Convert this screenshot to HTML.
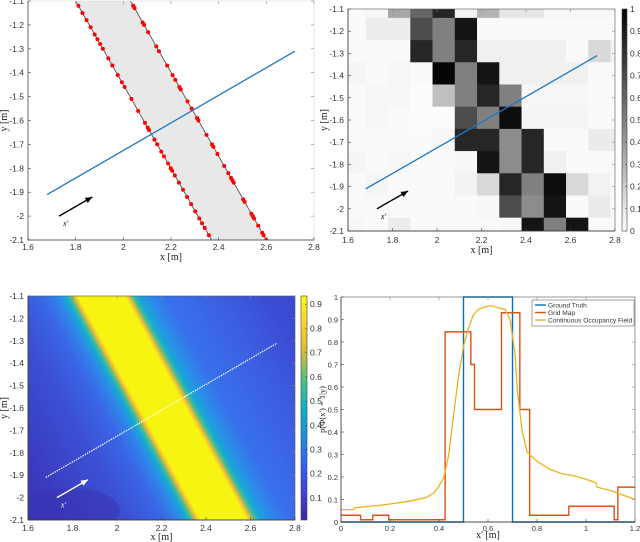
<!DOCTYPE html>
<html><head><meta charset="utf-8"><style>
html,body{margin:0;padding:0;background:#fff;width:640px;height:542px;overflow:hidden}
svg{display:block}
text{font-family:"Liberation Sans",sans-serif;font-size:8.5px;fill:#333}
.lab{font-family:"Liberation Serif",serif;font-size:10px;fill:#222}
</style></head><body>
<svg id="fig" width="640" height="542" viewBox="0 0 640 542" xmlns="http://www.w3.org/2000/svg">
<defs>
<clipPath id="c1"><rect x="28" y="1" width="286" height="239"/></clipPath>
<clipPath id="c2"><rect x="348" y="9" width="267" height="222"/></clipPath>
<clipPath id="c3"><rect x="28" y="296" width="267" height="224"/></clipPath>
<linearGradient id="parula" x1="0" y1="1" x2="0" y2="0">
<stop offset="0" stop-color="#3e26a8"/><stop offset="0.12" stop-color="#4140d8"/><stop offset="0.25" stop-color="#2f64f5"/><stop offset="0.37" stop-color="#1d8ee0"/><stop offset="0.5" stop-color="#0ab3c6"/><stop offset="0.62" stop-color="#49c085"/><stop offset="0.75" stop-color="#d4bb35"/><stop offset="0.87" stop-color="#fcce2e"/><stop offset="1" stop-color="#f9fb0e"/>
</linearGradient>
<linearGradient id="grayb" x1="0" y1="1" x2="0" y2="0"><stop offset="0" stop-color="#fff"/><stop offset="1" stop-color="#000"/></linearGradient>
<linearGradient id="field" gradientUnits="userSpaceOnUse" x1="31" y1="480" x2="294" y2="336">
<stop offset="0" stop-color="#3a38bc"/>
<stop offset="0.22" stop-color="#3b50d4"/>
<stop offset="0.32" stop-color="#3a66e6"/>
<stop offset="0.37" stop-color="#2f86ea"/>
<stop offset="0.395" stop-color="#14abd2"/>
<stop offset="0.41" stop-color="#5cbf80"/>
<stop offset="0.42" stop-color="#f0b83a"/>
<stop offset="0.432" stop-color="#f8f411"/>
<stop offset="0.568" stop-color="#f8f411"/>
<stop offset="0.58" stop-color="#f0b83a"/>
<stop offset="0.59" stop-color="#5cbf80"/>
<stop offset="0.605" stop-color="#14abd2"/>
<stop offset="0.635" stop-color="#2a8ee8"/>
<stop offset="0.69" stop-color="#3870ec"/>
<stop offset="0.85" stop-color="#3c5ee0"/>
<stop offset="1" stop-color="#3a4ad2"/>
</linearGradient>
</defs>
<g id="p1"></g>
<g id="p2"></g>
<g id="p3"></g>
<g id="p4"></g>
</svg>
<script>
// ---------- data ----------
const bandLeft = [[1.80,-1.1],[2.37,-2.1]];
const bandRight = [[2.03,-1.1],[2.60,-2.1]];
const scanLine = [[1.68,-1.91],[2.72,-1.31]];
const leftHitsY = [-1.12,-1.15,-1.18,-1.21,-1.24,-1.26,-1.28,-1.30,-1.34,-1.37,-1.41,-1.44,-1.46,-1.51,-1.56,-1.61,-1.63,-1.64,-1.68,-1.70,-1.73,-1.75,-1.78,-1.80,-1.81,-1.83,-1.86,-1.89,-1.92,-1.95,-1.98,-2.01,-2.03,-2.05,-2.08];
const rightHitsY = [-1.12,-1.13,-1.19,-1.20,-1.23,-1.29,-1.31,-1.37,-1.41,-1.43,-1.46,-1.47,-1.52,-1.55,-1.59,-1.60,-1.66,-1.70,-1.71,-1.74,-1.79,-1.82,-1.84,-1.85,-1.86,-1.93,-1.94,-1.99,-2.00,-2.01,-2.04,-2.07,-2.08,-2.10];
const gridColEdges = [1.58,1.68,1.78,1.88,1.98,2.08,2.18,2.28,2.38,2.48,2.58,2.68,2.78,2.88];
const gridRowEdges = [-1.04,-1.14,-1.24,-1.34,-1.44,-1.54,-1.64,-1.74,-1.84,-1.94,-2.04,-2.14];
const gridVals = [
[0.02,0.03,0.35,0.6,0.85,0.05,0.3,0.1,0.1,0.03,0.03,0.03,0.03],
[0.02,0.07,0.07,0.7,0.5,0.92,0.02,0.02,0.02,0.02,0.02,0.02,0.02],
[0.02,0.02,0.02,0.85,0.5,0.85,0.06,0.06,0.06,0.06,0.02,0.15,0.05],
[0.04,0.02,0.03,0.02,0.98,0.5,0.92,0.06,0.06,0.06,0.06,0.02,0.02],
[0.02,0.03,0.03,0.01,0.25,0.5,0.85,0.5,0.03,0.03,0.03,0.02,0.02],
[0.02,0.03,0.02,0.01,0.01,0.7,0.5,0.95,0.04,0.04,0.04,0.02,0.02],
[0.02,0.02,0.02,0.02,0.03,0.85,0.85,0.45,0.85,0.02,0.02,0.08,0.08],
[0.04,0.02,0.03,0.02,0.02,0.03,0.92,0.45,0.85,0.06,0.02,0.02,0.02],
[0.02,0.04,0.02,0.02,0.02,0.05,0.15,0.85,0.5,0.95,0.15,0.05,0.02],
[0.02,0.02,0.02,0.02,0.02,0.02,0.03,0.7,0.45,0.92,0.02,0.08,0.02],
[0.03,0.02,0.08,0.02,0.02,0.02,0.02,0.03,0.92,0.5,0.92,0.02,0.02]];
const mapXTicks = [1.6,1.8,2,2.2,2.4,2.6,2.8];
const mapYTicks = [-1.1,-1.2,-1.3,-1.4,-1.5,-1.6,-1.7,-1.8,-1.9,-2,-2.1];
const profXTicks = [0,0.2,0.4,0.6,0.8,1,1.2];
const profYTicks = [0,0.1,0.2,0.3,0.4,0.5,0.6,0.7,0.8,0.9,1];
const gtX = [0,0.5,0.5,0.7,0.7,1.2];
const gtY = [0,0,1,1,0,0];
const gridMapBreaks = [0,0.08,0.13,0.195,0.425,0.53,0.545,0.655,0.73,0.77,0.93,1.115,1.13,1.2];
const gridMapVals = [0.03,0.01,0.03,0.01,0.845,0.7,0.5,0.93,0.5,0.03,0.07,0.01,0.155];
const cofX = [0,0.05,0.055,0.1,0.15,0.2,0.25,0.3,0.35,0.38,0.4,0.42,0.44,0.46,0.48,0.5,0.52,0.54,0.56,0.6,0.62,0.64,0.67,0.69,0.71,0.72,0.74,0.76,0.8,0.85,0.9,0.95,1.0,1.04,1.045,1.1,1.15,1.2];
const cofY = [0.055,0.055,0.063,0.068,0.073,0.08,0.088,0.097,0.11,0.13,0.16,0.2,0.3,0.48,0.65,0.78,0.86,0.92,0.945,0.96,0.96,0.952,0.945,0.9,0.75,0.58,0.4,0.31,0.27,0.235,0.215,0.205,0.19,0.175,0.155,0.14,0.12,0.1];
const cb2Ticks = [0,0.1,0.2,0.3,0.4,0.5,0.6,0.7,0.8,0.9,1];
const cb3Ticks = [0.1,0.2,0.3,0.4,0.5,0.6,0.7,0.8,0.9];

const NS="http://www.w3.org/2000/svg";
function mk(parent,tag,attrs,txt){const e=document.createElementNS(NS,tag);for(const k in attrs)e.setAttribute(k,attrs[k]);if(txt!==undefined)e.textContent=txt;parent.appendChild(e);return e;}
function scale(d0,d1,p0,p1){return v=>p0+(v-d0)/(d1-d0)*(p1-p0);}
function fmt(v){return String(Math.round(v*10)/10);}

function axes(g,sx,sy,x0,x1,y0,y1,xt,yt,tyX,tyY,xlab,xlabY,ylab,ylabX,box,fs){
  const st=fs?`font-size:${fs}px`:'';
  const fr=mk(g,'rect',{x:x0,y:y0,width:x1-x0,height:y1-y0,fill:'none',stroke:box,'stroke-width':0.6});
  
  
  xt.forEach(v=>{const x=sx(v);
    mk(g,'line',{x1:x,y1:y1,x2:x,y2:y1-3,stroke:'#444','stroke-width':0.6});
    mk(g,'line',{x1:x,y1:y0,x2:x,y2:y0+3,stroke:'#888','stroke-width':0.6});
    const t=mk(g,'text',{x:x,y:tyY,'text-anchor':'middle',style:st},fmt(v));
    
    });
  yt.forEach(v=>{const y=sy(v);
    mk(g,'line',{x1:x0,y1:y,x2:x0+3,y2:y,stroke:'#444','stroke-width':0.6});
    mk(g,'line',{x1:x1,y1:y,x2:x1-3,y2:y,stroke:'#888','stroke-width':0.6});
    const t=mk(g,'text',{x:tyX,y:y+3,'text-anchor':'end',style:st},fmt(v));
    
    });
  mk(g,'line',{x1:x0,y1:y1,x2:x1,y2:y1,stroke:'#333','stroke-width':0.7});
  mk(g,'line',{x1:x0,y1:y0,x2:x0,y2:y1,stroke:'#333','stroke-width':0.7});
  const xl=mk(g,'text',{x:(x0+x1)/2,y:xlabY,'text-anchor':'middle',class:'lab'},xlab);
  
  
  const yl=mk(g,'text',{x:ylabX,y:(y0+y1)/2,'text-anchor':'middle',class:'lab',style:fs?'font-size:8.5px':'',transform:`rotate(-90 ${ylabX} ${(y0+y1)/2})`},ylab);
  
  
}
function arrow(g,sx,sy,col,labcol){
  const a=[sx(1.73),sy(-2.0)],b=[sx(1.87),sy(-1.92)];
  const ar=mk(g,'line',{x1:a[0],y1:a[1],x2:b[0],y2:b[1],stroke:col,'stroke-width':1.4});
  
  
  const dx=b[0]-a[0],dy=b[1]-a[1],L=Math.hypot(dx,dy),ux=dx/L,uy=dy/L;
  mk(g,'polygon',{points:`${b[0]},${b[1]} ${b[0]-7*ux-3*uy},${b[1]-7*uy+3*ux} ${b[0]-7*ux+3*uy},${b[1]-7*uy-3*ux}`,fill:col});
  const t=mk(g,'text',{x:a[0]+4,y:a[1]+10,class:'lab',style:`font-size:8px;fill:${labcol};font-style:italic`},"x'");
  
  
}

// ---------- panel 1 ----------
(function(){
 const g=document.getElementById('p1');
 const sx=scale(1.6,2.8,28,314),sy=scale(-1.1,-2.1,1,240);
 const c=mk(g,'g',{'clip-path':'url(#c1)'});
 const band=mk(c,'polygon',{points:[bandLeft[0],bandRight[0],bandRight[1],bandLeft[1]].map(p=>sx(p[0])+','+sy(p[1])).join(' '),fill:'#e8e8e8'});
 
 
 [bandLeft,bandRight].forEach(l=>mk(c,'line',{x1:sx(l[0][0]),y1:sy(l[0][1]),x2:sx(l[1][0]),y2:sy(l[1][1]),stroke:'#444','stroke-width':0.8}));
 function ex(l,y){const t=(y-l[0][1])/(l[1][1]-l[0][1]);return l[0][0]+t*(l[1][0]-l[0][0]);}
 leftHitsY.forEach(y=>{const d=mk(c,'circle',{cx:sx(ex(bandLeft,y)),cy:sy(y),r:2,fill:'#f00'});
   
   });
 rightHitsY.forEach(y=>{const d=mk(c,'circle',{cx:sx(ex(bandRight,y)),cy:sy(y),r:2,fill:'#f00'});
   
   });
 const sl=mk(c,'line',{x1:sx(scanLine[0][0]),y1:sy(scanLine[0][1]),x2:sx(scanLine[1][0]),y2:sy(scanLine[1][1]),stroke:'#1f77c4','stroke-width':1.3});
 
 
 arrow(g,sx,sy,'#000','#000');
 axes(g,sx,sy,28,314,1,240,mapXTicks,mapYTicks,24,250,'x [m]',260,'y [m]',7,'#ddd');
})();

// ---------- panel 2 ----------
(function(){
 const g=document.getElementById('p2');
 const sx=scale(1.6,2.8,348,615),sy=scale(-1.1,-2.1,9,231);
 const c=mk(g,'g',{'clip-path':'url(#c2)'});
 gridVals.forEach((row,i)=>row.forEach((v,j)=>{
   const x=sx(gridColEdges[j]),y=sy(gridRowEdges[i]);
   const w=sx(gridColEdges[j+1])-x,h=sy(gridRowEdges[i+1])-y;
   const lv=Math.round(255*(1-v));
   const r=mk(c,'rect',{x:x,y:y,width:w+0.3,height:h+0.3,fill:`rgb(${lv},${lv},${lv})`});
   
   }));
 const sl=mk(c,'line',{x1:sx(scanLine[0][0]),y1:sy(scanLine[0][1]),x2:sx(scanLine[1][0]),y2:sy(scanLine[1][1]),stroke:'#1f77c4','stroke-width':1.3});
 
 
 arrow(g,sx,sy,'#000','#000');
 axes(g,sx,sy,348,615,9,231,mapXTicks,mapYTicks,344,243,'x [m]',253,'y [m]',327,'#555');
 const cb=mk(g,'rect',{x:622,y:9,width:5,height:222,fill:'url(#grayb)',stroke:'#444','stroke-width':0.6});
 
 
 const cs=scale(0,1,231,9);
 cb2Ticks.forEach(v=>{mk(g,'line',{x1:627,y1:cs(v),x2:625,y2:cs(v),stroke:'#444','stroke-width':0.5});
   const t=mk(g,'text',{x:630,y:cs(v)+3},fmt(v));
   
   });
})();

// ---------- panel 3 ----------
(function(){
 const g=document.getElementById('p3');
 const sx=scale(1.6,2.8,28,295),sy=scale(-1.1,-2.1,296,520);
 const c=mk(g,'g',{'clip-path':'url(#c3)'});
 const f=mk(c,'rect',{x:28,y:296,width:267,height:224,fill:'url(#field)'});
 
 
 mk(c,'ellipse',{cx:70,cy:510,rx:50,ry:22,fill:'#3930b0',opacity:0.5});
 const sl=mk(c,'line',{x1:sx(scanLine[0][0]),y1:sy(scanLine[0][1]),x2:sx(scanLine[1][0]),y2:sy(scanLine[1][1]),stroke:'#fff','stroke-width':1.2,'stroke-dasharray':'1.5,1'});
 
 
 arrow(g,sx,sy,'#fff','#fff');
 axes(g,sx,sy,28,295,296,520,mapXTicks,mapYTicks,24,531,'x [m]',540,'y [m]',7,'#555');
 const cb=mk(g,'rect',{x:301,y:296,width:6,height:224,fill:'url(#parula)',stroke:'#444','stroke-width':0.6});
 
 
 const cs=scale(0.009,0.934,520,296);
 cb3Ticks.forEach(v=>{mk(g,'line',{x1:307,y1:cs(v),x2:305,y2:cs(v),stroke:'#444','stroke-width':0.5});
   const t=mk(g,'text',{x:310,y:cs(v)+3},fmt(v));
   
   });
})();

// ---------- panel 4 ----------
(function(){
 const g=document.getElementById('p4');
 const sx=scale(0,1.2,341,635),sy=scale(0,1,522,297);
 const gt=mk(g,'polyline',{points:gtX.map((x,i)=>sx(x)+','+sy(gtY[i])).join(' '),fill:'none',stroke:'#0072bd','stroke-width':1.4});
 
 
 let pts=[];gridMapVals.forEach((v,i)=>{pts.push(sx(gridMapBreaks[i])+','+sy(v));pts.push(sx(gridMapBreaks[i+1])+','+sy(v));});
 const gm=mk(g,'polyline',{points:pts.join(' '),fill:'none',stroke:'#d95319','stroke-width':1.4});
 
 
 const cf=mk(g,'polyline',{points:cofX.map((x,i)=>sx(x)+','+sy(cofY[i])).join(' '),fill:'none',stroke:'#edb120','stroke-width':1.3});
 
 
 axes(g,sx,sy,341,635,297,522,profXTicks,profYTicks,338,531,"x' [m]",538,"p(Φ(x') = 1|y)",325,'#555',7.5);
 const lg=mk(g,'g',{});
 
 
 mk(lg,'rect',{x:532,y:300,width:102,height:26,fill:'#fff',stroke:'#666','stroke-width':0.6});
 const ents=[['Ground Truth','#0072bd'],['Grid Map','#d95319'],['Continuous Occupancy Field','#edb120']];
 ents.forEach((e,i)=>{const y=305+i*7.5;
   mk(lg,'line',{x1:535,y1:y,x2:546,y2:y,stroke:e[1],'stroke-width':1.4});
   const t=mk(lg,'text',{x:548,y:y+2.5,style:'font-size:6.6px'},e[0]);
   
   });
})();
</script>
</body></html>
